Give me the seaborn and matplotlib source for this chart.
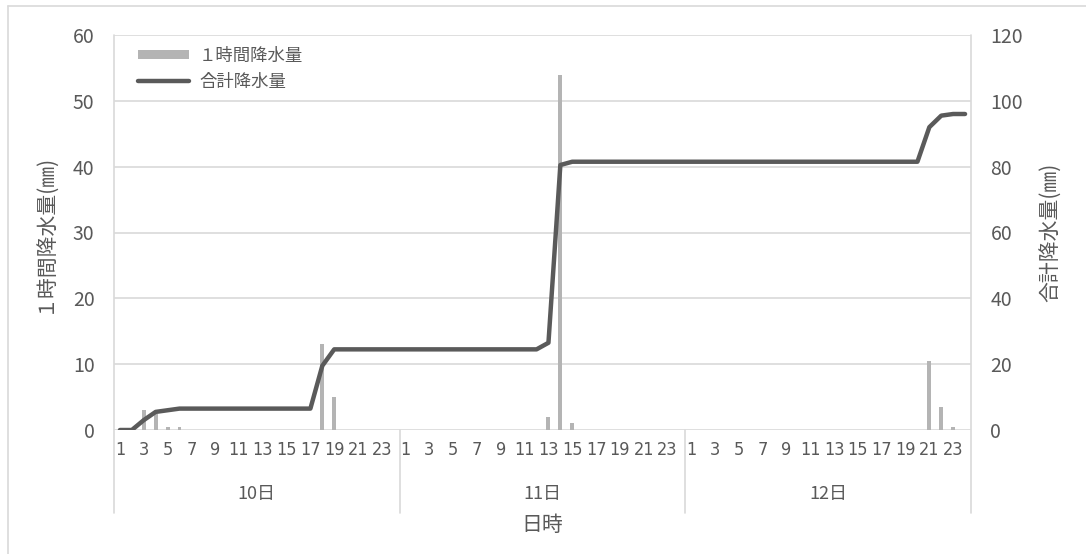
import numpy as np
import pandas as pd
import seaborn as sns
import matplotlib.pyplot as plt
from matplotlib.patches import Patch
from matplotlib.lines import Line2D
import matplotlib.transforms as mtransforms

# ===== data =====
days = ['10日', '11日', '12日']
hours = list(range(1, 25))

hourly_10 = [0, 0, 3, 2.5, 0.5, 0.5, 0, 0, 0, 0, 0, 0,
             0, 0, 0, 0, 0, 13, 5, 0, 0, 0, 0, 0]
hourly_11 = [0, 0, 0, 0, 0, 0, 0, 0, 0, 0, 0, 0,
             2, 54, 1, 0, 0, 0, 0, 0, 0, 0, 0, 0]
hourly_12 = [0, 0, 0, 0, 0, 0, 0, 0, 0, 0, 0, 0,
             0, 0, 0, 0, 0, 0, 0, 0, 10.5, 3.5, 0.5, 0]

total_10 = [0, 0, 3, 5.5, 6, 6.5, 6.5, 6.5, 6.5, 6.5, 6.5, 6.5,
            6.5, 6.5, 6.5, 6.5, 6.5, 19.5, 24.5, 24.5, 24.5, 24.5, 24.5, 24.5]
total_11 = [24.5, 24.5, 24.5, 24.5, 24.5, 24.5, 24.5, 24.5, 24.5, 24.5, 24.5, 24.5,
            26.5, 80.5, 81.5, 81.5, 81.5, 81.5, 81.5, 81.5, 81.5, 81.5, 81.5, 81.5]
total_12 = [81.5, 81.5, 81.5, 81.5, 81.5, 81.5, 81.5, 81.5, 81.5, 81.5, 81.5, 81.5,
            81.5, 81.5, 81.5, 81.5, 81.5, 81.5, 81.5, 81.5, 92, 95.5, 96, 96]

left_ticks = [0, 10, 20, 30, 40, 50, 60]
right_ticks = [0, 20, 40, 60, 80, 100, 120]

# ===== table =====
df = pd.DataFrame({
    'day': np.repeat(days, len(hours)),
    'hour': hours * len(days),
    'hourly': hourly_10 + hourly_11 + hourly_12,
    'total': total_10 + total_11 + total_12,
})
df['pos'] = np.arange(len(df))

sns.set_theme(style='white')
plt.rcParams['font.family'] = ['Noto Sans CJK JP', 'DejaVu Sans']

text_color = '#595959'
grid_color = '#d9d9d9'
bar_color = '#b4b4b4'
line_color = '#5a5a5a'

fig = plt.figure(figsize=(10.86, 5.54), dpi=100)
ax = fig.add_axes([114 / 1086, 1 - 430 / 554, 857 / 1086, 395 / 554])

sns.barplot(data=df, x='pos', y='hourly', color=bar_color, width=0.33,
            saturation=1, ax=ax, zorder=2, linewidth=0)
ax.set_xlim(-0.5, len(df) - 0.5)
ax.set_ylim(0, 60)
ax.set_yticks(left_ticks)
ax.yaxis.grid(True, color=grid_color, linewidth=1.2, zorder=0)
ax.set_axisbelow(True)
for s in ax.spines.values():
    s.set_visible(False)

ax2 = ax.twinx()
sns.lineplot(data=df, x='pos', y='total', color=line_color, linewidth=3.2,
             ax=ax2, solid_capstyle='round', solid_joinstyle='round')
ax2.set_ylim(0, 120)
ax2.set_yticks(right_ticks)
ax2.set_xlim(-0.5, len(df) - 0.5)
for s in ax2.spines.values():
    s.set_visible(False)

# x ticks: odd hours
odd = df[df['hour'] % 2 == 1]
ax.set_xticks(odd['pos'])
ax.set_xticklabels([str(h) for h in odd['hour']], fontsize=13, color=text_color,
                   family=['DejaVu Sans'], stretch='condensed')
ax.tick_params(axis='x', length=0, pad=8)
ax.tick_params(axis='y', length=0, pad=14, labelsize=14, labelcolor=text_color)
ax2.tick_params(axis='y', length=0, pad=14, labelsize=14, labelcolor=text_color)
ax.set_xlabel('')
ax2.set_xlabel('')

# group separators and day labels
trans = mtransforms.blended_transform_factory(ax.transData, ax.transAxes)
bounds = [-0.5, 23.5, 47.5, 71.5]
for i, b in enumerate(bounds):
    y_top = 1 if i in (0, len(bounds) - 1) else 0
    ax.plot([b, b], [y_top, -0.21], transform=trans, color=grid_color,
            linewidth=1.2, clip_on=False, zorder=1)
for k, d in enumerate(days):
    ax.text(k * 24 + 11.5, -0.162, d, transform=trans, ha='center', va='center',
            fontsize=13, color=text_color)
ax.text(0.5, -0.24, '日時', transform=ax.transAxes, ha='center', va='center',
        fontsize=15, color=text_color)

ax.set_ylabel('１時間降水量(㎜)', fontsize=15, color=text_color, labelpad=12)
ax2.set_ylabel('合計降水量(㎜)', fontsize=15, color=text_color, labelpad=12,
               rotation=90)

# legend
handles = [Patch(facecolor=bar_color, edgecolor='none'),
           Line2D([0], [0], color=line_color, linewidth=3.2, solid_capstyle='round')]
leg = ax.legend(handles, ['１時間降水量', '合計降水量'], loc='upper left',
                bbox_to_anchor=(0.01, 1.01), frameon=False, fontsize=12.5,
                handlelength=2.9, handleheight=0.5, handletextpad=0.6,
                labelspacing=0.45, labelcolor=text_color)

# chart frame (top and left visible)
fig.add_artist(Line2D([8 / 1086, 8 / 1086], [0, 1 - 6 / 554], color=grid_color,
                      linewidth=1.2, transform=fig.transFigure))
fig.add_artist(Line2D([8 / 1086, 1], [1 - 6 / 554, 1 - 6 / 554], color=grid_color,
                      linewidth=1.2, transform=fig.transFigure))

fig.savefig('out.png', dpi=100)
